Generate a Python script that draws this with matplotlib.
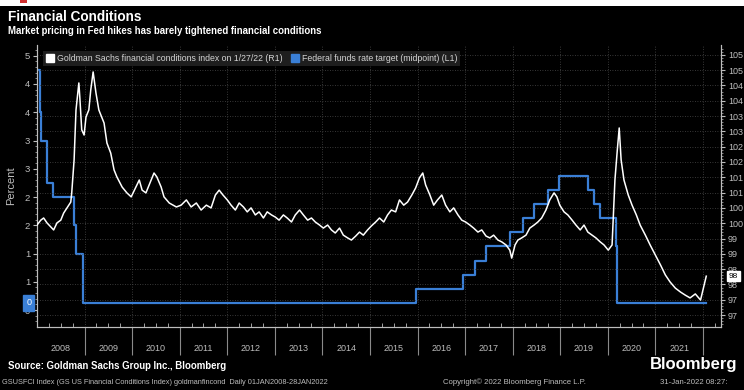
import matplotlib
matplotlib.use("Agg")
import matplotlib.pyplot as plt
import matplotlib.transforms as mtransforms
from matplotlib.lines import Line2D
from matplotlib.patches import Rectangle
import numpy as np

plt.rcParams['font.family'] = ['Liberation Sans', 'DejaVu Sans']

# ---------------- data ----------------
# Goldman Sachs financial conditions index (right axis), decimal years
gs_t = [2008.00, 2008.08, 2008.14, 2008.21, 2008.29, 2008.35, 2008.42, 2008.50, 2008.56,
        2008.63, 2008.71, 2008.73, 2008.78, 2008.82, 2008.88, 2008.90, 2008.94, 2008.99,
        2009.03, 2009.09, 2009.13, 2009.18, 2009.24, 2009.30, 2009.41, 2009.47, 2009.55,
        2009.62, 2009.68, 2009.79, 2009.89, 2009.98, 2010.08, 2010.15, 2010.21, 2010.29,
        2010.40, 2010.46, 2010.52, 2010.61, 2010.67, 2010.78, 2010.93,
        2011.03, 2011.14, 2011.24, 2011.35, 2011.45, 2011.56, 2011.66, 2011.75, 2011.83,
        2011.91, 2012.00, 2012.08, 2012.17, 2012.25, 2012.34, 2012.42, 2012.50, 2012.59,
        2012.67, 2012.76, 2012.84, 2012.93, 2013.01, 2013.09, 2013.18, 2013.26, 2013.35,
        2013.43, 2013.52, 2013.60, 2013.69, 2013.77, 2013.85, 2013.94, 2014.02, 2014.11,
        2014.19, 2014.27, 2014.36, 2014.44, 2014.53, 2014.61, 2014.70, 2014.78, 2014.86,
        2014.95, 2015.03, 2015.12, 2015.20, 2015.29, 2015.37, 2015.45, 2015.54, 2015.62,
        2015.71, 2015.79, 2015.88, 2015.96, 2016.04, 2016.11, 2016.17, 2016.26, 2016.34,
        2016.42, 2016.51, 2016.59, 2016.68, 2016.76, 2016.85, 2016.93, 2017.01, 2017.10,
        2017.18, 2017.27, 2017.35, 2017.44, 2017.52, 2017.60, 2017.69, 2017.77, 2017.86,
        2017.94, 2017.98, 2018.05, 2018.11, 2018.19, 2018.28, 2018.36, 2018.45, 2018.53,
        2018.61, 2018.70, 2018.78, 2018.87, 2018.93, 2018.99, 2019.08, 2019.16, 2019.25,
        2019.33, 2019.42, 2019.50, 2019.58, 2019.67, 2019.75, 2019.84, 2019.92, 2020.01,
        2020.09, 2020.15, 2020.20, 2020.24, 2020.28, 2020.34, 2020.43, 2020.51, 2020.60,
        2020.68, 2020.79, 2020.89, 2021.00, 2021.11, 2021.21, 2021.31, 2021.42, 2021.53,
        2021.63, 2021.73, 2021.84, 2021.95, 2022.01, 2022.07]
gs_v = [99.94, 100.10, 100.17, 100.01, 99.88, 99.78, 100.01, 100.10, 100.33,
        100.50, 100.69, 100.99, 102.07, 103.70, 104.58, 104.12, 103.05, 102.88,
        103.47, 103.70, 104.35, 104.94, 104.25, 103.70, 103.27, 102.62, 102.29,
        101.74, 101.51, 101.18, 100.99, 100.86, 101.18, 101.41, 101.08, 100.99,
        101.41, 101.64, 101.51, 101.18, 100.86, 100.66, 100.53,
        100.59, 100.76, 100.53, 100.66, 100.43, 100.59, 100.50, 100.92, 101.08,
        100.92, 100.76, 100.59, 100.43, 100.66, 100.53, 100.37, 100.50, 100.27,
        100.37, 100.17, 100.37, 100.27, 100.20, 100.10, 100.27, 100.17, 100.04,
        100.27, 100.43, 100.27, 100.10, 100.17, 100.04, 99.94, 99.84, 99.94,
        99.78, 99.68, 99.84, 99.61, 99.52, 99.45, 99.58, 99.71, 99.61,
        99.78, 99.91, 100.04, 100.17, 100.04, 100.27, 100.43, 100.37, 100.76,
        100.59, 100.69, 100.92, 101.15, 101.48, 101.64, 101.25, 100.92, 100.59,
        100.76, 100.92, 100.59, 100.37, 100.50, 100.27, 100.10, 100.04, 99.94,
        99.84, 99.71, 99.78, 99.58, 99.52, 99.61, 99.45, 99.39, 99.29,
        99.12, 98.86, 99.29, 99.45, 99.52, 99.61, 99.84, 99.94, 100.04,
        100.17, 100.43, 100.76, 100.99, 100.86, 100.59, 100.37, 100.27, 100.10,
        99.94, 99.78, 99.94, 99.71, 99.61, 99.52, 99.39, 99.29, 99.12,
        99.29, 101.41, 102.39, 103.11, 102.07, 101.41, 100.92, 100.59, 100.27,
        99.94, 99.61, 99.29, 98.96, 98.63, 98.31, 98.08, 97.88, 97.75,
        97.65, 97.56, 97.69, 97.49, 97.88, 98.27]

# Federal funds rate target midpoint (left axis), step changes
ff_t = [2008.00, 2008.06, 2008.08, 2008.21, 2008.33, 2008.77, 2008.82, 2008.96,
        2015.96, 2016.95, 2017.20, 2017.45, 2017.95, 2018.22, 2018.45, 2018.74,
        2018.97, 2019.58, 2019.71, 2019.83, 2020.17, 2020.20, 2022.07]
ff_v = [4.25, 3.50, 3.00, 2.25, 2.00, 1.50, 1.00, 0.125,
        0.375, 0.625, 0.875, 1.125, 1.375, 1.625, 1.875, 2.125,
        2.375, 2.125, 1.875, 1.625, 1.125, 0.125, 0.125]

left_ticks = [0.0, 0.5, 1.0, 1.5, 2.0, 2.5, 3.0, 3.5, 4.0, 4.5]
left_labels = ['0', '1', '1', '2', '2', '3', '3', '4', '4', '5']
right_ticks = [97.0, 97.5, 98.0, 98.5, 99.0, 99.5, 100.0, 100.5, 101.0, 101.5,
               102.0, 102.5, 103.0, 103.5, 104.0, 104.5, 105.0, 105.5]
right_labels = ['97', '97', '98', '98', '99', '99', '100', '100', '101', '101',
                '102', '102', '103', '103', '104', '104', '105', '105']
years = list(range(2008, 2022))
year_labels = [str(y) for y in years]

gs_label = 'Goldman Sachs financial conditions index on 1/27/22 (R1)'
ff_label = 'Federal funds rate target (midpoint) (L1)'
ff_last_label = '0'
gs_last_label = '98'

# ---------------- style ----------------
BG = 'black'
GREY = '#bdbdbd'
BLUE = '#3a7fd6'

fig = plt.figure(figsize=(7.44, 3.90), dpi=100, facecolor=BG)
W, H = 744, 390
x0, x1, ytop, ybot = 37, 721, 45, 327
ax = fig.add_axes([x0 / W, 1 - ybot / H, (x1 - x0) / W, (ybot - ytop) / H])
ax.set_facecolor(BG)
ax2 = ax.twinx()

# fed funds on left
ax.step(ff_t, ff_v, where='post', color=BLUE, lw=1.6, zorder=3)
ax.set_ylim(-0.30, 4.69)
ax.set_yticks(left_ticks)
ax.set_yticklabels(left_labels)
ax.set_yticks(np.arange(-0.2, 4.7, 0.1), minor=True)

# GS FCI on right
ax2.plot(gs_t, gs_v, color='white', lw=1.1, zorder=4)
ax2.set_ylim(96.61, 105.82)
ax2.set_yticks(right_ticks)
ax2.set_yticklabels(right_labels)
ax2.set_yticks(np.arange(96.7, 105.8, 0.1), minor=True)

ax.set_xlim(2008.0, 2022.38)
ax.set_xticks(list(range(2009, 2023)))
ax.set_xticklabels([])
ax.set_xticks(np.arange(2008.0, 2022.38, 0.25), minor=True)

for a in (ax, ax2):
    for s in a.spines.values():
        s.set_color(GREY)
        s.set_linewidth(0.8)
    a.spines['top'].set_visible(False)

ax.tick_params(axis='y', which='major', colors=GREY, labelsize=6.8, length=3, width=0.8, pad=2)
ax.tick_params(axis='y', which='minor', colors=GREY, length=1.5, width=0.5)
ax2.tick_params(axis='y', which='major', colors=GREY, labelsize=6.5, length=3, width=0.8, pad=2)
ax2.tick_params(axis='y', which='minor', colors=GREY, length=1.5, width=0.5)
ax.tick_params(axis='x', which='major', colors='#8a8a8a', length=20, width=0.8, direction='out')
ax.tick_params(axis='x', which='minor', colors=GREY, length=3, width=0.6, direction='in')

# grids
ax2.grid(axis='y', which='major', color='#4a4a4a', linestyle=(0, (1, 2)), lw=0.6)
ax.grid(axis='x', which='major', color='#4a4a4a', linestyle=(0, (1, 2)), lw=0.6)
ax.set_axisbelow(True)
ax2.set_axisbelow(True)

# year labels centred in each year
trans = mtransforms.blended_transform_factory(ax.transData, ax.transAxes)
for y, lab in zip(years, year_labels):
    ax.text(y + 0.5, -0.075, lab, transform=trans, ha='center', va='center',
            color=GREY, fontsize=6.5)

ax.set_ylabel('Percent', color=GREY, fontsize=8, labelpad=6)

# legend
handles = [Line2D([], [], marker='s', color='none', markerfacecolor='white',
                  markeredgecolor='white', markersize=6),
           Line2D([], [], marker='s', color='none', markerfacecolor=BLUE,
                  markeredgecolor=BLUE, markersize=6)]
leg = ax2.legend(handles, [gs_label, ff_label], loc='upper left',
                 bbox_to_anchor=(0.003, 0.995), ncol=2, fontsize=6.3, frameon=True,
                 facecolor='#1e1e1e', edgecolor='none', framealpha=1,
                 handlelength=0.8, handletextpad=0.4, columnspacing=1.0,
                 borderpad=0.35, labelcolor='#d4d4d4', fancybox=False)
leg.set_zorder(10)

# last-value boxes
tl = mtransforms.blended_transform_factory(ax.transAxes, ax.transData)
ax.text(-0.012, ff_v[-1], ff_last_label, transform=tl, ha='center', va='center',
        color='white', fontsize=6.5, clip_on=False,
        bbox=dict(boxstyle='square,pad=0.35', fc=BLUE, ec=BLUE))
tr = mtransforms.blended_transform_factory(ax2.transAxes, ax2.transData)
ax2.text(1.018, gs_v[-1], gs_last_label, transform=tr, ha='center', va='center',
         color='black', fontsize=6, clip_on=False, zorder=20,
         bbox=dict(boxstyle='square,pad=0.2', fc='white', ec='white'))

# header / footer
fig.patches.append(Rectangle((0, 1 - 6 / H), 1, 6 / H, transform=fig.transFigure,
                             fc='white', ec='none'))
fig.patches.append(Rectangle((20 / W, 1 - 3 / H), 7 / W, 3 / H, transform=fig.transFigure,
                             fc='#d03030', ec='none'))
fig.text(8 / W, 1 - 17 / H, 'Financial Conditions', color='white', fontsize=9.8,
         fontweight='bold', va='center', ha='left')
fig.text(8 / W, 1 - 31 / H, 'Market pricing in Fed hikes has barely tightened financial conditions',
         color='white', fontsize=6.9, fontweight='bold', va='center', ha='left')
fig.text(8 / W, 1 - 366 / H, 'Source: Goldman Sachs Group Inc., Bloomberg', color='white',
         fontsize=6.9, fontweight='bold', va='center', ha='left')
fig.text(650 / W, 1 - 364 / H, 'Bloomberg', color='white', fontsize=12, fontweight='bold',
         va='center', ha='left')
fig.text(2 / W, 1 - 382 / H,
         'GSUSFCI Index (GS US Financial Conditions Index) goldmanfincond  Daily 01JAN2008-28JAN2022',
         color=GREY, fontsize=5.3, va='center', ha='left')
fig.text(443 / W, 1 - 382 / H, 'Copyright\u00a9 2022 Bloomberg Finance L.P.', color=GREY,
         fontsize=5.6, va='center', ha='left')
fig.text(660 / W, 1 - 382 / H, '31-Jan-2022 08:27:', color=GREY, fontsize=5.6,
         va='center', ha='left')

fig.savefig('out.png', dpi=100, facecolor=BG)
